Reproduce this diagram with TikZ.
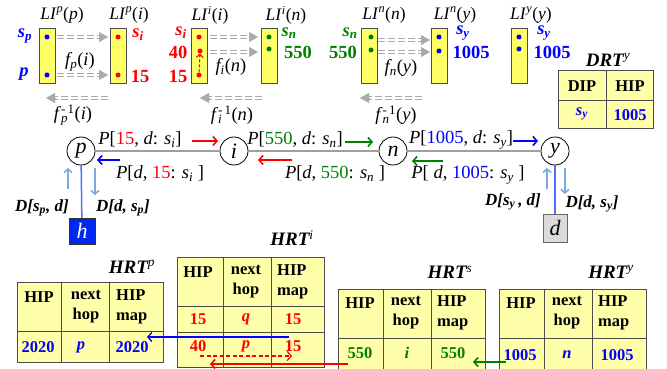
\documentclass[tikz,border=0pt]{standalone}
\usepackage{fontspec}
\setmainfont{Liberation Serif}
\usetikzlibrary{arrows.meta,calc}
\definecolor{myred}{RGB}{255,0,0}
\definecolor{mygreen}{RGB}{0,128,0}
\definecolor{myblue}{RGB}{0,0,255}
\definecolor{liyellow}{RGB}{255,255,102}
\definecolor{tyellow}{RGB}{255,255,170}
\definecolor{lbcol}{RGB}{120,170,225}
\definecolor{vcol}{RGB}{80,110,255}
\definecolor{hcol}{RGB}{0,40,240}
\definecolor{gcol}{RGB}{170,170,170}
\newcommand{\sbx}[1]{\textsubscript{#1}}
\newcommand{\spx}[1]{\textsuperscript{#1}}
\newcommand{\garrow}[2]{\draw[gdbl] (#1) -- (#2); \draw[ghead] ($(#2)!9pt!(#1)$) -- (#2);}
\begin{document}
\begin{tikzpicture}[x=1pt,y=-1pt,
 lbl/.style={inner sep=0pt, font=\fontsize{17.5}{18}\selectfont},
 plbl/.style={inner sep=0pt, font=\fontsize{18.5}{20}\selectfont},
 blbl/.style={inner sep=0pt, font=\fontsize{18.5}{18}\selectfont\bfseries},
 ttl/.style={inner sep=0pt, font=\fontsize{19}{19}\selectfont\bfseries\itshape},
 th/.style={inner sep=0pt, font=\fontsize{16.5}{20}\selectfont\bfseries},
 libox/.style={draw=black!70, fill=liyellow, minimum width=16pt, minimum height=55pt, inner sep=0pt, line width=0.7pt},
 dotnode/.style={circle, inner sep=0pt, minimum size=5pt, fill=#1},
 gdbl/.style={draw=gcol, line width=1.4pt, double=white, double distance=1.6pt, dash pattern=on 7pt off 3pt, shorten >=8pt},
 ghead/.style={draw=gcol, fill=gcol, line width=0.5pt, -{Triangle[length=9pt,width=10pt]}},
 rnode/.style={circle, draw=black, line width=0.8pt, fill=white, minimum size=28pt, inner sep=0pt, font=\fontsize{22}{22}\selectfont\itshape},
 mainline/.style={draw=gray!75, line width=2pt},
 vline/.style={draw=vcol, line width=1.5pt},
 carr/.style={line width=1.6pt, -{Straight Barb[length=4pt,width=9pt]}},
 lbarr/.style={draw=lbcol, line width=1.6pt, -{Straight Barb[length=3.5pt,width=8pt]}},
 tbl/.style={draw=black!70, fill=tyellow, line width=0.8pt},
 tline/.style={draw=black!70, line width=0.8pt},
 dlbl/.style={inner sep=0pt, font=\fontsize{17}{18}\selectfont\bfseries\itshape}
]
\useasboundingbox (0,0) rectangle (667,369);

% ---------- LI boxes ----------
\node[libox] (LIpp) at (47,55.5) {};
\node[libox] (LIpi) at (118,55.5) {};
\node[libox] (LIii) at (199.5,55.5) {};
\node[libox] (LIin) at (269.5,55.5) {};
\node[libox] (LInn) at (369,55.5) {};
\node[libox] (LIny) at (439,55.5) {};
\node[libox] (LIyy) at (519,55.5) {};

\node[lbl] (tpp) at (62,15) {\textit{LI}\spx{\textit{p}}(\textit{p})};
\node[lbl] (tpi) at (129,15) {\textit{LI}\spx{\textit{p}}(\textit{i})};
\node[lbl] (tii) at (210,15) {\textit{LI}\spx{\textit{i}}(\textit{i})};
\node[lbl] (tin) at (286,15) {\textit{LI}\spx{\textit{i}}(\textit{n})};
\node[lbl] (tnn) at (384,15) {\textit{LI}\spx{\textit{n}}(\textit{n})};
\node[lbl] (tny) at (455,15) {\textit{LI}\spx{\textit{n}}(\textit{y})};
\node[lbl] (tyy) at (531,15) {\textit{LI}\spx{\textit{y}}(\textit{y})};

% dots
\node[dotnode=myblue] (pp1) at (47,37) {};
\node[dotnode=myblue] (pp2) at (47,75) {};
\node[dotnode=myred] (pi1) at (118,37) {};
\node[dotnode=myred] (pi2) at (118,75) {};
\node[dotnode=myred] (ii1) at (199,37) {};
\node[dotnode=myred] (ii2) at (200,51) {};
\node[dotnode=myred] (ii3) at (199,75) {};
\node[dotnode=mygreen] (in1) at (269,37) {};
\node[dotnode=mygreen] (in2) at (269,49) {};
\node[dotnode=mygreen] (nn1) at (371,37) {};
\node[dotnode=mygreen] (nn2) at (371,50) {};
\node[dotnode=myblue] (ny1) at (439,37) {};
\node[dotnode=myblue] (ny2) at (439,51) {};
\node[dotnode=myblue] (yy1) at (519,37) {};
\node[dotnode=myblue] (yy2) at (519,49) {};

% side labels
\node[blbl, text=myblue] (lsp) at (25,36) {\textit{s\sbx{p}}};
\node[blbl, text=myblue] (lp) at (24,74) {\textit{p}};
\node[blbl, text=myred] (lsi) at (138,35) {\textit{s\sbx{i}}};
\node[blbl, text=myred] (l15a) at (140,76) {15};
\node[blbl, text=myred] (lsi2) at (181,33) {\textit{s\sbx{i}}};
\node[blbl, text=myred] (l40) at (178,52) {40};
\node[blbl, text=myred] (l15b) at (178,76) {15};
\node[blbl, text=mygreen] (lsn) at (289,33) {\textit{s\sbx{n}}};
\node[blbl, text=mygreen] (l550a) at (298,52) {550};
\node[blbl, text=mygreen] (lsn2) at (350,33) {\textit{s\sbx{n}}};
\node[blbl, text=mygreen] (l550b) at (343,52) {550};
\node[blbl, text=myblue] (lsy) at (463,33) {\textit{s\sbx{y}}};
\node[blbl, text=myblue] (l1005a) at (471,52) {1005};
\node[blbl, text=myblue] (lsy2) at (544,33) {\textit{s\sbx{y}}};
\node[blbl, text=myblue] (l1005b) at (552,52) {1005};

% red dashed arrow inside LI^i(i)
\draw[myred, line width=1.1pt, dash pattern=on 3pt off 2pt, -{Straight Barb[length=3pt,width=7pt]}] (ii3) -- (ii2);

% grey mapping arrows
\coordinate (g1a) at (57,37);  \coordinate (g1b) at (108,37);
\coordinate (g2a) at (57,75);  \coordinate (g2b) at (108,75);
\coordinate (g3a) at (210,37); \coordinate (g3b) at (258,37);
\coordinate (g4a) at (210,52); \coordinate (g4b) at (258,52);
\coordinate (g5a) at (378,40); \coordinate (g5b) at (430,40);
\coordinate (g6a) at (378,52); \coordinate (g6b) at (430,52);
\coordinate (h1a) at (108,98); \coordinate (h1b) at (46,98);
\coordinate (h2a) at (262,98); \coordinate (h2b) at (200,98);
\coordinate (h3a) at (422,98); \coordinate (h3b) at (360,98);
\garrow{g1a}{g1b}
\garrow{g2a}{g2b}
\garrow{g3a}{g3b}
\garrow{g4a}{g4b}
\garrow{g5a}{g5b}
\garrow{g6a}{g6b}
\garrow{h1a}{h1b}
\garrow{h2a}{h2b}
\garrow{h3a}{h3b}

\node[plbl] (fp) at (80,62) {\textit{f\sbx{p}}(\textit{i})};
\node[plbl] (fpi) at (73,115) {\textit{f}\rlap{\sbx{\textit{p}}}\spx{-\,1}(\textit{i})};
\node[plbl] (fi) at (231,67) {\textit{f\sbx{i}}(\textit{n})};
\node[plbl] (fii) at (232,115) {\textit{f}\rlap{\sbx{\textit{i}}}\spx{-\,1}(\textit{n})};
\node[plbl] (fn) at (401,68) {\textit{f\sbx{n}}(\textit{y})};
\node[plbl] (fni) at (396,115) {\textit{f}\rlap{\sbx{\textit{n}}}\spx{-\,1}(\textit{y})};

% ---------- DRT^y ----------
\node[ttl] (drtt) at (608,60) {DRT\spx{\mdseries y}};
\path[tbl] (558,70) rectangle (653,128);
\draw[tline] (606,70) -- (606,128) (558,100) -- (653,100);
\node[th] (dh1) at (582,86) {DIP};
\node[th] (dh2) at (630,86) {HIP};
\node[th, text=myblue] (dv1) at (582,114) {\textit{s\sbx{y}}};
\node[th, text=myblue] (dv2) at (630,115) {1005};

% ---------- main network ----------
\node[rnode] (p) at (81,151) {p};
\node[rnode] (i) at (234,151) {i};
\node[rnode] (n) at (393,151) {n};
\node[rnode] (y) at (555,151) {y};
\draw[mainline] (p) -- (i);
\draw[mainline] (i) -- (n);
\draw[mainline] (n) -- (y);

\node[draw=black!80, fill=hcol, minimum width=26pt, minimum height=26pt, inner sep=0pt, text=white, font=\fontsize{22}{22}\selectfont\itshape] (h) at (82,231) {h};
\node[draw=black!60, fill=black!14, minimum width=24pt, minimum height=28pt, inner sep=0pt, font=\fontsize{22}{22}\selectfont\itshape] (d) at (555,228) {d};
\draw[vline] (p) -- (h);
\draw[vline] (y) -- (d);

% light blue arrows
\coordinate (pu1) at (68,189); \coordinate (pu2) at (68,168);
\coordinate (pd1) at (95,168); \coordinate (pd2) at (95,195);
\coordinate (yu1) at (547,189); \coordinate (yu2) at (547,168);
\coordinate (yd1) at (565,168); \coordinate (yd2) at (565,194);
\draw[lbarr] (pu1) -- (pu2);
\draw[lbarr] (pd1) -- (pd2);
\draw[lbarr] (yu1) -- (yu2);
\draw[lbarr] (yd1) -- (yd2);

\node[dlbl] (D1) at (42,208) {D[s\sbx{p}, d]};
\node[dlbl] (D2) at (123,208) {D[d, s\sbx{p}]};
\node[dlbl] (D3) at (513,202) {D[s\sbx{y}\,, d]};
\node[dlbl] (D4) at (592,204) {D[d, s\sbx{y}]};

% coloured packet arrows
\coordinate (ra1) at (192,141); \coordinate (ra2) at (218,141);
\coordinate (ga1) at (345,142); \coordinate (ga2) at (373,142);
\coordinate (ba1) at (513,141); \coordinate (ba2) at (538,141);
\coordinate (bb1) at (120,160); \coordinate (bb2) at (97,160);
\coordinate (rb1) at (292,160); \coordinate (rb2) at (258,160);
\coordinate (gb1) at (443,161); \coordinate (gb2) at (412,161);
\draw[carr, myred] (ra1) -- (ra2);
\draw[carr, mygreen] (ga1) -- (ga2);
\draw[carr, myblue] (ba1) -- (ba2);
\draw[carr, myblue] (bb1) -- (bb2);
\draw[carr, myred] (rb1) -- (rb2);
\draw[carr, mygreen] (gb1) -- (gb2);

\node[plbl] (P1) at (140,140) {\textit{P}[{\color{myred}15}, \textit{d}: \textit{s}\sbx{\textit{i}}]};
\node[plbl] (P2) at (295,140) {\textit{P}[{\color{mygreen}550}, \textit{d}: \textit{s}\sbx{\textit{n}}]};
\node[plbl] (P3) at (461,140) {\textit{P}[{\color{myblue}1005}, \textit{d}: \textit{s}\sbx{\textit{y}}]};
\node[plbl] (P4) at (160,174) {\textit{P}[\textit{d}, {\color{myred}15}: \textit{s}\sbx{\textit{i}} ]};
\node[plbl] (P5) at (335,174) {\textit{P}[\textit{d}, {\color{mygreen}550}: \textit{s}\sbx{\textit{n}} ]};
\node[plbl] (P6) at (468,175) {\textit{P}[ \textit{d}, {\color{myblue}1005}: \textit{s}\sbx{\textit{y}} ]};

% ---------- HRT^p ----------
\node[ttl] (tp) at (132,267) {HRT\spx{\mdseries p}};
\path[tbl] (17,282) rectangle (163,362);
\draw[tline] (61,282) -- (61,362) (109,282) -- (109,362) (17,331) -- (163,331);
\node[th] (p11) at (39,297) {HIP};
\node[th, align=center] (p12) at (86,307) {next\\hop};
\node[th, align=left, anchor=west] (p13) at (116,307) {HIP\\map};
\node[th, text=myblue] (p21) at (38,347) {2020};
\node[th, text=myblue] (p22) at (81,347) {\textit{p}};
\node[th, text=myblue] (p23) at (132,347) {2020};

% ---------- HRT^i ----------
\node[ttl] (ti) at (292,238) {HRT\spx{\mdseries i}};
\path[tbl] (177,257) rectangle (324,367);
\draw[tline] (223,257) -- (223,367) (271,257) -- (271,367) (177,306) -- (324,306) (177,332) -- (324,332);
\node[th] (i11) at (198,272) {HIP};
\node[th, align=center] (i12) at (246,282) {next\\hop};
\node[th, align=left, anchor=west] (i13) at (277,282) {HIP\\map};
\node[th, text=myred] (i21) at (198,319) {15};
\node[th, text=myred] (i22) at (246,319) {\textit{q}};
\node[th, text=myred] (i23) at (293,319) {15};
\node[th, text=myred] (i31) at (198,346) {40};
\node[th, text=myred] (i32) at (246,346) {\textit{p}};
\node[th, text=myred] (i33) at (293,346) {15};

% ---------- HRT^s ----------
\node[ttl] (ts) at (450,272) {HRT\spx{\mdseries s}};
\path[tbl] (338,289) rectangle (485,380);
\draw[tline] (383,289) -- (383,380) (431,289) -- (431,380) (338,338) -- (485,338);
\node[th] (s11) at (360,303) {HIP};
\node[th, align=center] (s12) at (406,313) {next\\hop};
\node[th, align=left, anchor=west] (s13) at (437,313) {HIP\\map};
\node[th, text=mygreen] (s21) at (360,353) {550};
\node[th, text=mygreen] (s22) at (407,353) {\textit{i}};
\node[th, text=mygreen] (s23) at (453,353) {550};

% ---------- HRT^y ----------
\node[ttl] (ty) at (611,272) {HRT\spx{\mdseries y}};
\path[tbl] (499,289) rectangle (646,380);
\draw[tline] (544,289) -- (544,380) (592,289) -- (592,380) (499,338) -- (646,338);
\node[th] (y11) at (521,303) {HIP};
\node[th, align=center] (y12) at (567,313) {next\\hop};
\node[th, align=left, anchor=west] (y13) at (598,313) {HIP\\map};
\node[th, text=myblue] (y21) at (520,355) {1005};
\node[th, text=myblue] (y22) at (567,355) {\textit{n}};
\node[th, text=myblue] (y23) at (617,355) {1005};

% ---------- table arrows ----------
\coordinate (ta1) at (289,337); \coordinate (ta2) at (147,337);
\coordinate (tb1) at (200,356); \coordinate (tb2) at (292,356);
\coordinate (tc1) at (348,364); \coordinate (tc2) at (210,364);
\coordinate (td1) at (506,362); \coordinate (td2) at (473,362);
\draw[carr, myblue, line width=1.3pt] (ta1) -- (ta2);
\draw[carr, myred, line width=1.2pt, dash pattern=on 4pt off 2.5pt] (tb1) -- (tb2);
\draw[carr, myred] (tc1) -- (tc2);
\draw[carr, mygreen] (td1) -- (td2);
\end{tikzpicture}
\end{document}
